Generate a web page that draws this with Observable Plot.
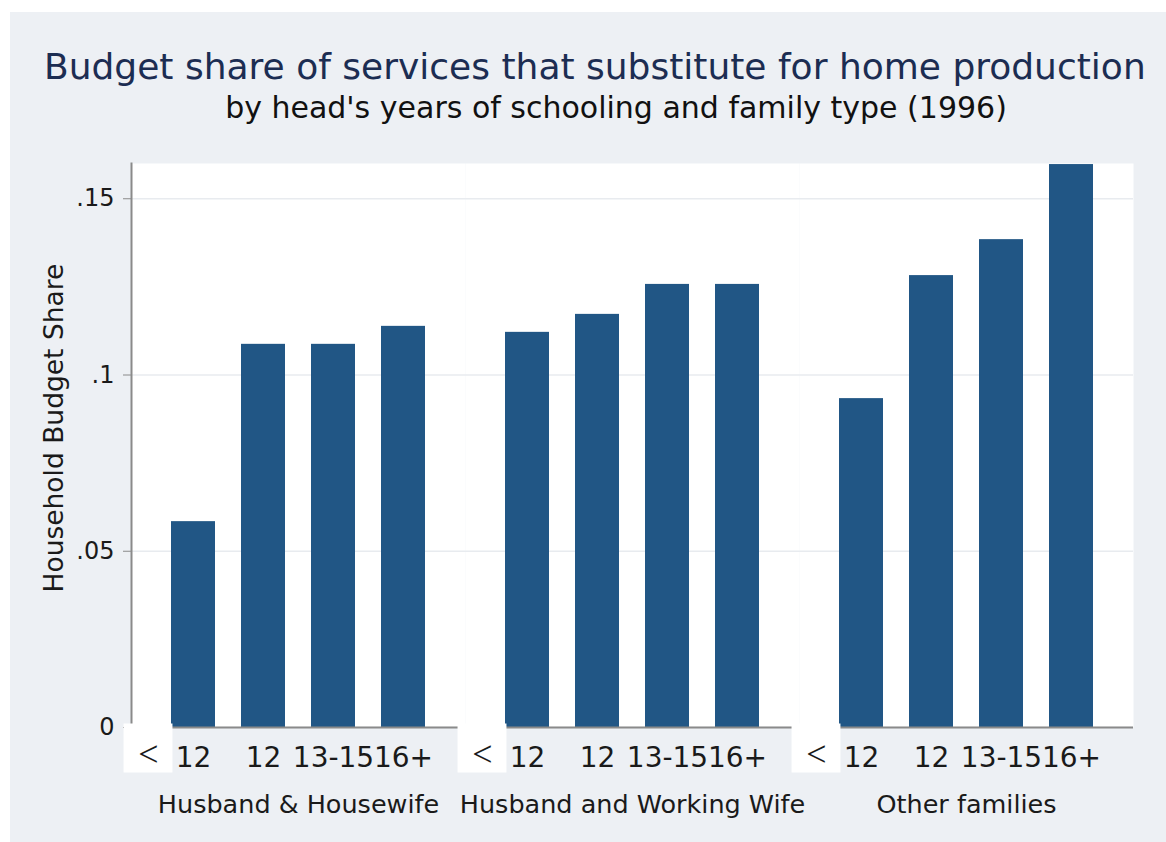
<!DOCTYPE html>
<html>
<head>
<meta charset="utf-8">
<script src="https://cdn.jsdelivr.net/npm/d3@7"></script>
<script src="https://cdn.jsdelivr.net/npm/@observablehq/plot@0.6"></script>
<style>
  html, body { margin: 0; padding: 0; background: #ffffff; }
  body { width: 1166px; height: 842px; position: relative; overflow: hidden; font-family: "DejaVu Sans", sans-serif; }
  #panel { position: absolute; left: 10px; top: 12px; width: 1156px; height: 830px; background: #edf0f4; overflow: hidden; }
  #title { position: absolute; left: 34px; top: 37px; font-size: 36px; line-height: 1; color: #1c2d52; white-space: nowrap; }
  #subtitle { position: absolute; left: 0; width: 1212px; top: 81px; font-size: 30px; line-height: 1; color: #111; text-align: center; white-space: nowrap; }
  #chart { position: absolute; left: 0; top: 123px; }
</style>
</head>
<body>
<div id="panel">
  <div id="title">Budget share of services that substitute for home production</div>
  <div id="subtitle">by head's years of schooling and family type (1996)</div>
  <div id="chart"></div>
</div>
<script>
// ---- data ----
const groups = ["Husband & Housewife", "Husband and Working Wife", "Other families"];
const schooling = ["<12", "12", "13-15", "16+"];
const xTickLabels = ["12", "12", "13-15", "16+"]; // "<" is drawn in its own white box
const shareHusbandHousewife = [0.0584, 0.1087, 0.1087, 0.1138];
const shareHusbandWorkingWife = [0.1121, 0.1172, 0.1257, 0.1257];
const shareOtherFamilies = [0.0933, 0.1282, 0.1384, 0.1597];
const yTicks = [0, 0.05, 0.1, 0.15];
const yTickLabels = ["0", ".05", ".1", ".15"];
const yLabel = "Household Budget Share";

const seriesByGroup = [shareHusbandHousewife, shareHusbandWorkingWife, shareOtherFamilies];
const rows = groups.flatMap((g, gi) =>
  schooling.map((s, si) => ({group: g, school: s, share: seriesByGroup[gi][si]}))
);
const lessRows = rows.filter(d => d.school === "<12");

const xLabel = new Map(schooling.map((s, i) => [s, xTickLabels[i]]));
const yLabelMap = new Map(yTicks.map((t, i) => [t, yTickLabels[i]]));

const font = "DejaVu Sans";
const chart = Plot.plot({
  width: 1156,
  height: 707,
  marginLeft: 120,
  marginRight: 33,
  marginTop: 28,
  marginBottom: 115,
  style: {background: "transparent", fontFamily: font, color: "#1a1a1a"},
  fx: {domain: groups, padding: 0},
  x: {domain: schooling, paddingInner: 0.376, paddingOuter: 0.559},
  y: {domain: [0, 0.16]},
  marks: [
    Plot.frame({fill: "white", stroke: "none"}),
    Plot.gridY({ticks: yTicks, stroke: "#e8ebef", strokeOpacity: 1, strokeWidth: 1.5}),
    Plot.barY(rows, {fx: "group", x: "school", y: "share", fill: "#215685"}),
    Plot.ruleY([0], {stroke: "#8a8a8a", strokeWidth: 2}),
    Plot.frame({anchor: "left", stroke: "#8a8a8a", strokeWidth: 2, facetAnchor: "left"}),
    Plot.axisY({
      ticks: yTicks, tickFormat: d => yLabelMap.get(d), tickSize: 8, tickPadding: 9,
      stroke: "#8a8a8a", fontSize: 24, fill: "#1a1a1a", label: null
    }),
    Plot.text([yLabel], {
      text: d => d, frameAnchor: "left", facetAnchor: "left", rotate: -90,
      fontSize: 26.5, fill: "#1a1a1a", dx: -76.5, dy: 147
    }),
    Plot.axisX({tickSize: 0, tickPadding: 20, fontSize: 28, fill: "#1a1a1a", tickFormat: d => xLabel.get(d), label: null}),
    Plot.axisFx({anchor: "bottom", tickSize: 0, tickPadding: 67, fontSize: 25.5, fill: "#1a1a1a", label: null}),
    Plot.dot(lessRows, {fx: "group", x: "school", y: () => 0, symbol: "square", r: 27.6, fill: "white", stroke: "none", dx: -45.5, dy: 20.5}),
    Plot.text(lessRows, {fx: "group", x: "school", y: () => 0, text: () => "<", fontFamily: "Liberation Serif", fontSize: 36, fill: "#1a1a1a", dx: -45, dy: 27})
  ]
});
document.getElementById("chart").appendChild(chart);
</script>
</body>
</html>
